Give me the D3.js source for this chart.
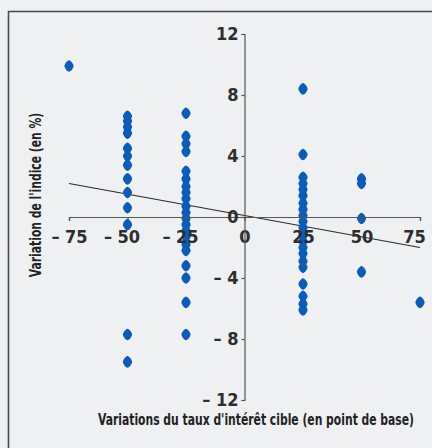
<!DOCTYPE html>
<html>
<head>
<meta charset="utf-8">
<script src="https://cdn.jsdelivr.net/npm/d3@7"></script>
<style>
  html, body { margin: 0; padding: 0; background: #eef0f2; }
  svg { display: block; }
</style>
</head>
<body>
<svg id="chart" width="432" height="448"></svg>
<script>
// Change in target rate (basis points) for each column of observations
const rateSteps = [-75, -50, -25, 25, 50, 75];

// Index change (%) observed at each rate step
const indexAtMinus75 = [9.9];
const indexAtMinus50 = [6.6, 6.3, 5.9, 5.5, 4.5, 4.0, 3.4, 2.5, 1.6, 0.6, -0.5, -7.7, -9.5];
const indexAtMinus25 = [6.8, 5.3, 4.8, 4.3, 3.0, 2.5, 2.0, 1.6, 1.2, 0.7, 0.3, -0.1, -0.5, -0.9,
                        -1.3, -1.8, -2.2, -3.2, -4.0, -5.6, -7.7];
const indexAtPlus25  = [8.4, 4.1, 2.6, 2.2, 1.8, 1.4, 0.9, 0.5, 0.1, -0.3, -0.7, -1.2, -1.6, -2.0,
                        -2.4, -2.9, -3.3, -4.4, -5.2, -5.7, -6.1];
const indexAtPlus50  = [2.5, 2.2, -0.1, -3.6];
const indexAtPlus75  = [-5.6];

// Fitted trend line end points
const trendX = [-75, 75];
const trendY = [2.2, -2.0];

// Axis ticks and their printed labels
const xTicks = [-75, -50, -25, 0, 25, 50, 75];
const xTickLabels = ["– 75", "– 50", "– 25", "0", "25", "50", "75"];
const yTicks = [-12, -8, -4, 0, 4, 8, 12];
const yTickLabels = ["– 12", "– 8", "– 4", "0", "4", "8", "12"];

const xTitle = "Variations du taux d'intérêt cible (en point de base)";
const yTitle = "Variation de l'indice (en %)";

const columns = [indexAtMinus75, indexAtMinus50, indexAtMinus25, indexAtPlus25, indexAtPlus50, indexAtPlus75];
const points = [];
columns.forEach((vals, i) => vals.forEach(v => points.push({ x: rateSteps[i], y: v })));

const svg = d3.select("#chart");
const tickFont = "'DejaVu Sans Condensed', 'DejaVu Sans', sans-serif";
const titleFont = "'DejaVu Sans Condensed', 'DejaVu Sans', sans-serif";

// Frame
svg.append("path")
  .attr("d", "M8.5,448 V11.5 H432")
  .attr("fill", "none")
  .attr("stroke", "#4a4a4a")
  .attr("stroke-width", 1.6);

const x = d3.scaleLinear().domain([-75, 75]).range([69, 420]);
const y = d3.scaleLinear().domain([-12, 12]).range([400, 34]);

// X axis through the origin
const xAxis = svg.append("g")
  .attr("transform", `translate(0,${y(0)})`)
  .call(d3.axisBottom(x).tickValues(xTicks).tickSize(4).tickPadding(9.5)
    .tickFormat((d, i) => xTickLabels[i]));

// Y axis through the origin
const yAxis = svg.append("g")
  .attr("transform", `translate(${x(0)},0)`)
  .call(d3.axisLeft(y).tickValues(yTicks).tickSize(3).tickPadding(3)
    .tickFormat((d, i) => yTickLabels[i]));

[xAxis, yAxis].forEach(g => {
  g.select(".domain").attr("stroke", "#555").attr("stroke-width", 1.2);
  g.selectAll(".tick line").attr("stroke", "#555").attr("stroke-width", 1.2);
  g.selectAll(".tick text")
    .attr("fill", "#2d2d2d")
    .style("font-family", tickFont)
    .style("font-weight", "bold")
    .style("font-size", "18px");
});

// Negative labels keep their digits under the tick; end labels sit inside the axis ends
xAxis.selectAll(".tick text").attr("dx", d => {
  if (d === -75) return 0;
  if (d === 75) return -6;
  return d < 0 ? -6 : 0;
});

// Trend line
svg.append("line")
  .attr("x1", x(trendX[0])).attr("y1", y(trendY[0]))
  .attr("x2", x(trendX[1])).attr("y2", y(trendY[1]))
  .attr("stroke", "#2a2a2a")
  .attr("stroke-width", 1.1);

// Observations as rounded diamonds
const diamond = "M0,-5.8 C1.8,-5.8 4.6,-1.6 4.6,0 C4.6,1.6 1.8,5.8 0,5.8 C-1.8,5.8 -4.6,1.6 -4.6,0 C-4.6,-1.6 -1.8,-5.8 0,-5.8Z";
svg.append("g").selectAll("path")
  .data(points)
  .join("path")
  .attr("d", diamond)
  .attr("transform", d => `translate(${x(d.x)},${y(d.y)})`)
  .attr("fill", "#0b5cb8");

// Keep tick labels above the markers
xAxis.raise();
yAxis.raise();
xAxis.select(".domain").lower();
yAxis.select(".domain").lower();

// Axis titles, horizontally compressed to a condensed face
svg.append("text")
  .attr("transform", "translate(256,425) scale(0.8,1)")
  .attr("text-anchor", "middle")
  .attr("fill", "#222")
  .style("font-family", titleFont)
  .style("font-weight", "bold")
  .style("font-size", "15px")
  .text(xTitle);

svg.append("text")
  .attr("transform", "translate(41,195) rotate(-90) scale(0.8,1)")
  .attr("text-anchor", "middle")
  .attr("fill", "#222")
  .style("font-family", titleFont)
  .style("font-weight", "bold")
  .style("font-size", "15px")
  .text(yTitle);
</script>
</body>
</html>
